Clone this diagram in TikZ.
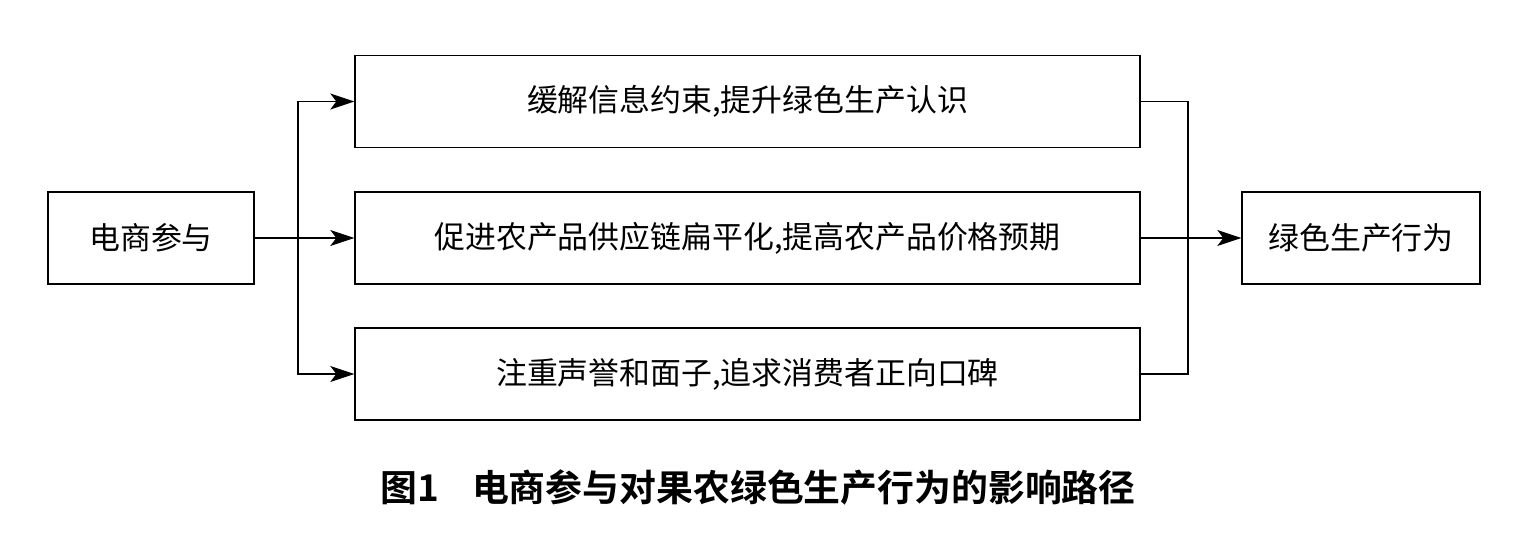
\documentclass[tikz,border=0pt]{standalone}
\usepackage{fontspec}
\setmainfont{Noto Sans CJK SC}
\newfontfamily\capfont{Noto Sans CJK SC Bold}
\usetikzlibrary{arrows.meta}
\begin{document}
\begin{tikzpicture}[x=1bp,y=-1bp,
  box/.style={draw, line width=1.4bp, minimum height=92bp, inner sep=0pt, font=\fontsize{31}{34}\selectfont},
  conn/.style={line width=1.4bp},
  arr/.style={conn, -{Stealth[length=24bp,width=16bp,inset=6bp]}}]
\useasboundingbox (0,0) rectangle (1519,548);
\node[box, minimum width=206bp] (src) at (151,238) {电商参与};
\node[box, minimum width=785bp] (p1) at (747.5,101.5) {缓解信息约束,提升绿色生产认识};
\node[box, minimum width=785bp] (p2) at (747.5,238) {促进农产品供应链扁平化,提高农产品价格预期};
\node[box, minimum width=785bp] (p3) at (747.5,374) {注重声誉和面子,追求消费者正向口碑};
\node[box, minimum width=238bp] (dst) at (1361,238) {绿色生产行为};
\coordinate (jl) at (298,238);
\coordinate (jr) at (1188,238);
\draw[arr] (src.east) -- (p2.west);
\draw[arr] (jl) |- (p1.west);
\draw[arr] (jl) |- (p3.west);
\draw[conn] (p1.east) -| (jr);
\draw[conn] (p3.east) -| (jr);
\draw[arr] (p2.east) -- (dst.west);
\node[font=\capfont\fontsize{37}{40}\selectfont] (cap) at (758,487) {图1\hspace{0.9em}电商参与对果农绿色生产行为的影响路径};
\end{tikzpicture}
\end{document}
